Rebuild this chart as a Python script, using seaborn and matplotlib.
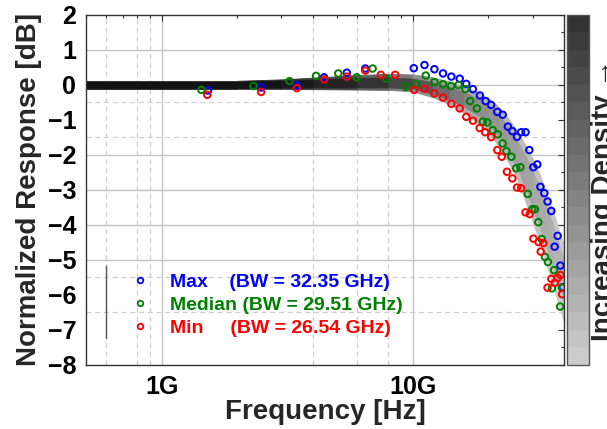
import numpy as np
import matplotlib
matplotlib.use("Agg")
import matplotlib.pyplot as plt
from matplotlib.colors import ListedColormap, Normalize
from matplotlib.cm import ScalarMappable
from matplotlib.lines import Line2D
import matplotlib.ticker as mticker
import seaborn as sns

sns.set_style("white")
plt.rcParams["font.family"] = ["Liberation Sans", "DejaVu Sans"]
plt.rcParams["font.weight"] = "bold"

# --- measured points (frequency in GHz, normalized response in dB) ---
max_f = [1.53, 2.49, 3.45, 4.43, 5.46, 6.47, 10.09, 11.13, 12.19, 13.19, 14.24,
         15.37, 16.33, 17.35, 18.5, 19.5, 20.5, 21.7, 22.8, 23.9, 24.9, 26.0,
         27.0, 28.1, 29.1, 30.2, 31.3, 32.2, 33.4, 34.4, 35.6, 37.7, 36.7,
         38.7, 39.5]
max_db = [-0.16, -0.07, -0.01, 0.22, 0.35, 0.47, 0.48, 0.57, 0.45, 0.33, 0.24,
          0.18, 0.03, -0.12, -0.30, -0.46, -0.57, -0.77, -0.85, -1.19, -1.32,
          -1.48, -1.35, -1.35, -1.86, -2.35, -2.27, -2.91, -3.09, -3.33, -3.60,
          -4.31, -4.62, -5.16, -5.78]

med_f = [1.44, 2.32, 3.23, 4.12, 5.05, 5.98, 6.92, 7.86, 9.38, 10.34, 11.26,
         12.2, 13.19, 14.2, 15.2, 16.2, 16.9, 18.0, 19.0, 19.8, 20.8, 21.8,
         22.8, 23.6, 24.7, 25.8, 26.8, 28.7, 29.9, 30.6, 31.6, 32.6, 33.6,
         34.5, 36.5, 35.8, 39.3, 38.6]
med_db = [-0.14, -0.03, 0.11, 0.26, 0.33, 0.22, 0.47, 0.18, -0.05, 0.02, 0.27,
          0.08, 0.02, -0.03, 0.00, -0.12, -0.46, -0.67, -1.05, -1.07, -1.29,
          -1.41, -1.67, -1.89, -2.05, -2.38, -2.35, -3.11, -3.55, -3.55, -3.92,
          -4.40, -4.91, -5.06, -5.29, -5.81, -5.79, -6.33]

min_f = [1.52, 2.49, 3.45, 4.44, 5.46, 6.47, 7.46, 8.51, 10.12, 11.13, 12.19,
         13.19, 14.24, 15.37, 16.33, 17.35, 18.45, 19.4, 20.5, 21.7, 22.6,
         23.7, 24.9, 26.0, 27.0, 28.1, 29.2, 30.2, 31.7, 33.1, 32.3, 34.4,
         35.6, 36.8, 37.7, 38.7, 39.3]
min_db = [-0.28, -0.20, -0.09, 0.16, 0.24, 0.41, 0.29, 0.29, -0.14, -0.11, -0.24,
          -0.36, -0.54, -0.67, -0.91, -1.02, -1.23, -1.35, -1.49, -1.86, -2.05,
          -2.48, -2.67, -2.93, -2.95, -3.64, -3.69, -4.39, -4.49, -4.52, -4.76,
          -5.79, -5.54, -5.65, -5.51, -5.43, -5.98]

series_labels = ["Max    (BW = 32.35 GHz)",
                 "Median (BW = 29.51 GHz)",
                 "Min     (BW = 26.54 GHz)"]
series_colors = ["#0000ff", "#008000", "#ff0000"]

band_f = [0.5, 1, 2, 3, 4, 6, 8, 10, 12, 14, 16, 18, 20, 22, 24, 26, 28, 30,
          32, 34, 36, 38, 40]
outer_hi = [0.12, 0.12, 0.12, 0.16, 0.21, 0.28, 0.32, 0.30, 0.22, 0.10, -0.05,
            -0.20, -0.38, -0.62, -0.95, -1.30, -1.70, -2.10, -2.55, -3.05,
            -3.55, -4.10, -4.60]
outer_lo = [-0.11, -0.11, -0.11, -0.11, -0.12, -0.13, -0.14, -0.18, -0.35,
            -0.55, -0.80, -1.07, -1.35, -1.75, -2.20, -2.70, -3.30, -3.90,
            -4.50, -5.10, -5.70, -6.25, -6.80]
core_hi = [0.09, 0.09, 0.09, 0.12, 0.15, 0.20, 0.22, 0.18, 0.08, -0.05, -0.20,
           -0.38, -0.58, -0.85, -1.20, -1.60, -2.00, -2.45, -2.95, -3.45,
           -3.95, -4.50, -5.00]
core_lo = [-0.08, -0.08, -0.08, -0.07, -0.07, -0.07, -0.07, -0.10, -0.25,
           -0.42, -0.62, -0.85, -1.12, -1.45, -1.90, -2.35, -2.90, -3.50,
           -4.05, -4.60, -5.15, -5.70, -6.20]
outer_shade = [0.15, 0.15, 0.17, 0.22, 0.28, 0.38, 0.48, 0.56, 0.62, 0.66, 0.68,
               0.70, 0.71, 0.72, 0.73, 0.74, 0.75, 0.76, 0.77, 0.78, 0.79, 0.80,
               0.80]
core_shade = [0.07, 0.07, 0.08, 0.10, 0.14, 0.20, 0.28, 0.35, 0.42, 0.48, 0.53,
              0.56, 0.58, 0.60, 0.62, 0.63, 0.64, 0.66, 0.67, 0.68, 0.70, 0.71,
              0.72]

solid_grid_y = [1, 0, -2, -3, -4, -5]
dashed_grid_y = [-0.5, -1.5, -5.5, -6.5]
solid_grid_x = [1, 10]
dashed_grid_x = [0.6, 0.8, 0.9, 4, 6, 8]

fig = plt.figure(figsize=(6.07, 4.29), dpi=100)
ax = fig.add_axes([0.1417, 0.1492, 0.7875, 0.8159])
cax = fig.add_axes([0.934, 0.1492, 0.0362, 0.8159])

ax.set_xscale("log")
ax.set_xlim(0.5, 40)
ax.set_ylim(-8, 2)

# grid
for y in solid_grid_y:
    ax.axhline(y, color="#c4c4c4", lw=1.0, zorder=0)
for y in dashed_grid_y:
    ax.axhline(y, color="#cfcfcf", lw=0.9, ls=(0, (4, 3)), zorder=0)
for x in solid_grid_x:
    ax.axvline(x, color="#c4c4c4", lw=1.0, zorder=0)
for x in dashed_grid_x:
    ax.axvline(x, color="#cfcfcf", lw=0.9, ls=(0, (4, 3)), zorder=0)

# density band (one segment per interval so the shade can change along x)
for i in range(len(band_f) - 1):
    seg = slice(i, i + 2)
    g = outer_shade[i]
    ax.fill_between(band_f[seg], outer_lo[seg], outer_hi[seg],
                    facecolor=(g, g, g), edgecolor=(g, g, g), lw=0.6, zorder=1)
    g = core_shade[i]
    ax.fill_between(band_f[seg], core_lo[seg], core_hi[seg],
                    facecolor=(g, g, g), edgecolor=(g, g, g), lw=0.6, zorder=2)

# measured points
for fx, dy, col in [(max_f, max_db, series_colors[0]),
                    (med_f, med_db, series_colors[1]),
                    (min_f, min_db, series_colors[2])]:
    sns.scatterplot(x=fx, y=dy, ax=ax, marker="o", s=22, facecolor="none",
                    edgecolor=col, linewidth=1.4, zorder=3)

# ticks
ax.yaxis.set_major_locator(mticker.MultipleLocator(1))
ax.yaxis.set_minor_locator(mticker.MultipleLocator(0.5))
ax.xaxis.set_major_locator(mticker.FixedLocator([1, 10]))
ax.xaxis.set_major_formatter(mticker.FixedFormatter(["1G", "10G"]))
ax.xaxis.set_minor_locator(mticker.LogLocator(base=10, subs=np.arange(2, 10)))
ax.xaxis.set_minor_formatter(mticker.NullFormatter())
ax.tick_params(which="both", direction="in", top=True, right=True,
               colors="#333333", labelcolor="black")
ax.tick_params(which="major", length=4, width=0.8, labelsize=18, pad=7)
ax.tick_params(which="minor", length=2.5, width=0.8)
for lab in ax.get_xticklabels() + ax.get_yticklabels():
    lab.set_fontweight("bold")
for sp in ax.spines.values():
    sp.set_color("#333333")
    sp.set_linewidth(1.0)

ax.set_xlabel("Frequency [Hz]", fontsize=20, fontweight="bold", labelpad=0)
ax.set_ylabel("Normalized Response [dB]", fontsize=20, fontweight="bold",
              labelpad=4)

# legend
handles = [Line2D([], [], ls="", marker="o", ms=4, mfc="none", mec=c, mew=1.3)
           for c in series_colors]
leg = ax.legend(handles, series_labels, loc="upper left",
                bbox_to_anchor=(0.045, 0.311), frameon=False,
                prop={"weight": "bold", "size": 14}, labelcolor=series_colors,
                handlelength=1.5, handletextpad=0.8, labelspacing=0.27,
                borderpad=0.4)
ax.plot([0.0418, 0.0418], [0.077, 0.283], transform=ax.transAxes,
        color="#555555", lw=1.0, zorder=4)

# colorbar
cmap = ListedColormap([str(v) for v in np.linspace(0.8, 0.2, 20)])
cb = fig.colorbar(ScalarMappable(norm=Normalize(0, 1), cmap=cmap), cax=cax)
cb.set_ticks([])
cb.outline.set_edgecolor("#555555")
cb.outline.set_linewidth(1.0)
fig.text(0.973, 0.534, "Increasing Density \u2192", rotation=90,
         ha="left", va="center", fontsize=20, fontweight="bold")

fig.savefig("out.png", dpi=100)
